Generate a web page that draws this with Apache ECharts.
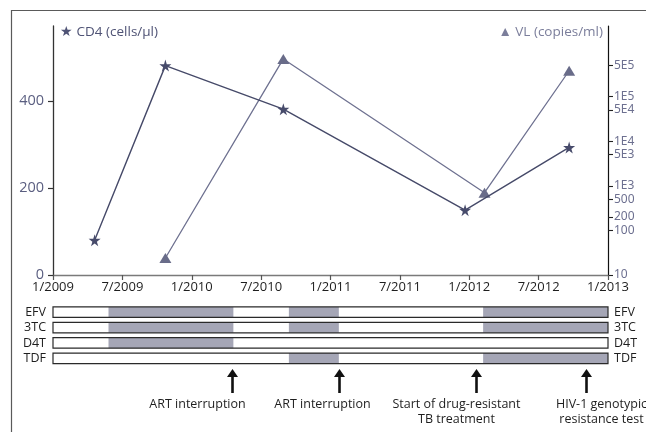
<!DOCTYPE html>
<html>
<head>
<meta charset="utf-8">
<script src="https://cdn.jsdelivr.net/npm/echarts@6/dist/echarts.min.js"></script>
<style>
  html, body { margin: 0; padding: 0; background: #fff; }
  #chart { width: 646px; height: 432px; }
</style>
</head>
<body>
<div id="chart"></div>
<script>
// dates are decimal years
const cd4Dates = [2009.30, 2009.81, 2010.66, 2011.97, 2012.72]
const cd4Values = [80, 481, 381, 149, 293]
const vlDates = [2009.81, 2010.66, 2012.11, 2012.72]
const vlValues = [24, 700000, 700, 380000]

const cd4Ticks = [0, 200, 400]
const vlTicks = [10, 100, 200, 500, 1000, 5000, 10000, 50000, 100000, 500000]

const drugNames = ['EFV', '3TC', 'D4T', 'TDF']
const efvOn = [[2009.40, 2010.30], [2010.70, 2011.06], [2012.10, 2013.0]]
const tc3On = [[2009.40, 2010.30], [2010.70, 2011.06], [2012.10, 2013.0]]
const d4tOn = [[2009.40, 2010.30]]
const tdfOn = [[2010.70, 2011.06], [2012.10, 2013.0]]
const drugPeriods = [efvOn, tc3On, d4tOn, tdfOn]

const eventYears = [2010.29, 2011.06, 2012.05, 2012.84]
const eventLabels = [
  'ART interruption',
  'ART interruption',
  'Start of drug-resistant\nTB treatment',
  'HIV-1 genotypic\nresistance test',
]

const FONT = '"Open Sans", "Noto Sans", sans-serif'
const NARROW = '"Liberation Sans Narrow", "Noto Sans", sans-serif'
const GRID_LEFT = 53
const GRID_RIGHT = 38
// label centres are not exactly on the arrows in the original
const labelShift = [-35, -17, -20, 15]

const yearLabel = (v) => {
  const r = Math.round(v)
  return Math.abs(v - r) < 0.01 ? '1/' + r : '7/' + Math.floor(v)
}

const vlLabel = (v) => {
  if (v < 1000) return String(Math.round(v))
  const e = Math.floor(Math.log10(v) + 1e-9)
  return Math.round(v / Math.pow(10, e)) + 'E' + e
}

const starPath = 'path://M50,0 L61,35 L98,35 L68,57 L79,91 L50,70 L21,91 L32,57 L2,35 L39,35 Z'

const chart = echarts.init(document.getElementById('chart'))

chart.setOption({
  animation: false,
  backgroundColor: '#fff',
  graphic: [
    {
      type: 'rect',
      silent: true,
      z: -10,
      shape: { x: 11.5, y: 10.5, width: 700, height: 500 },
      style: { fill: 'none', stroke: '#5a5a5a', lineWidth: 1.2 },
    },
  ],
  grid: [
    { left: GRID_LEFT, right: GRID_RIGHT, top: 26, height: 249 },
    { left: GRID_LEFT, right: GRID_RIGHT, top: 304.5, height: 61.5 },
    { left: GRID_LEFT, right: GRID_RIGHT, top: 369, height: 24 },
  ],
  xAxis: [
    {
      type: 'value',
      gridIndex: 0,
      min: 2009,
      max: 2013,
      interval: 0.5,
      splitLine: { show: false },
      axisLine: { show: true, onZero: false, lineStyle: { color: '#7a7a7a', width: 1.3 } },
      axisTick: { show: true, length: 5, lineStyle: { color: '#555', width: 1.2 } },
      axisLabel: { formatter: yearLabel, color: '#1e1e1e', fontSize: 13, fontFamily: FONT, margin: 6 },
    },
    { type: 'value', gridIndex: 1, min: 2009, max: 2013, show: false },
    { type: 'value', gridIndex: 2, min: 2009, max: 2013, show: false },
  ],
  yAxis: [
    {
      type: 'value',
      gridIndex: 0,
      position: 'left',
      min: 0,
      max: 572,
      name: '★ CD4 (cells/μl)',
      nameLocation: 'end',
      nameGap: -6,
      nameTextStyle: {
        align: 'left',
        verticalAlign: 'middle',
        padding: [0, 0, 0, 7],
        color: '#4f5375',
        fontSize: 13.5,
        fontFamily: FONT,
      },
      splitLine: { show: false },
      axisLine: { show: true, onZero: false, lineStyle: { color: '#333', width: 1.3 } },
      axisTick: { show: true, length: 5, customValues: cd4Ticks, lineStyle: { color: '#333', width: 1.2 } },
      axisLabel: { customValues: cd4Ticks, color: '#5a5e80', fontSize: 14.5, fontFamily: FONT, margin: 9 },
    },
    {
      type: 'log',
      logBase: 10,
      gridIndex: 0,
      position: 'right',
      min: 10,
      max: 3830000,
      name: '▲ VL (copies/ml)',
      nameLocation: 'end',
      nameGap: -6,
      nameTextStyle: {
        align: 'right',
        verticalAlign: 'middle',
        padding: [0, 5, 0, 0],
        color: '#7b7e9b',
        fontSize: 13.5,
        fontFamily: FONT,
      },
      splitLine: { show: false },
      axisLine: { show: true, onZero: false, lineStyle: { color: '#111', width: 1.2 } },
      axisTick: { show: true, length: 5, customValues: vlTicks, lineStyle: { color: '#222', width: 1.1 } },
      axisLabel: {
        customValues: vlTicks,
        formatter: vlLabel,
        color: '#6d7090',
        fontSize: 12,
        fontFamily: NARROW,
        margin: 6,
      },
    },
    {
      type: 'category',
      gridIndex: 1,
      position: 'left',
      inverse: true,
      data: drugNames,
      axisLine: { show: false },
      axisTick: { show: false },
      axisLabel: { interval: 0, color: '#1e1e1e', fontSize: 12.5, fontFamily: FONT, margin: 7 },
    },
    {
      type: 'category',
      gridIndex: 1,
      position: 'right',
      inverse: true,
      data: drugNames,
      axisLine: { show: false },
      axisTick: { show: false },
      axisLabel: { interval: 0, color: '#1e1e1e', fontSize: 12.5, fontFamily: FONT, margin: 6, align: 'left' },
    },
    { type: 'value', gridIndex: 2, min: 0, max: 1, show: false },
  ],
  series: [
    {
      name: 'CD4',
      type: 'line',
      xAxisIndex: 0,
      yAxisIndex: 0,
      data: cd4Dates.map((d, i) => [d, cd4Values[i]]),
      symbol: starPath,
      symbolSize: 12,
      itemStyle: { color: '#474b6b' },
      lineStyle: { color: '#464a69', width: 1.4 },
      z: 3,
    },
    {
      name: 'VL',
      type: 'line',
      xAxisIndex: 0,
      yAxisIndex: 1,
      data: vlDates.map((d, i) => [d, vlValues[i]]),
      symbol: 'triangle',
      symbolSize: [12, 10],
      itemStyle: { color: '#696c89' },
      lineStyle: { color: '#6e7190', width: 1.3 },
      z: 2,
    },
    {
      name: 'drugs',
      type: 'custom',
      xAxisIndex: 1,
      yAxisIndex: 2,
      clip: false,
      data: drugNames.map((n, i) => [2009, i]),
      encode: { x: 0, y: 1 },
      renderItem: (params, api) => {
        const row = api.value(1)
        const h = api.size([0, 1])[1] * 0.68
        const a = api.coord([2009, row])
        const b = api.coord([2013, row])
        const top = a[1] - h / 2
        const children = [
          { type: 'rect', shape: { x: a[0], y: top, width: b[0] - a[0], height: h }, style: { fill: '#fff' } },
        ]
        drugPeriods[row].forEach(([s, e]) => {
          const p = api.coord([s, row])
          const q = api.coord([e, row])
          children.push({
            type: 'rect',
            shape: { x: p[0], y: top, width: q[0] - p[0], height: h },
            style: { fill: '#a5a6b6' },
          })
        })
        children.push({
          type: 'rect',
          shape: { x: a[0], y: top, width: b[0] - a[0], height: h },
          style: { fill: 'none', stroke: '#2a2a2a', lineWidth: 1.2 },
        })
        return { type: 'group', children }
      },
    },
    {
      name: 'events',
      type: 'custom',
      xAxisIndex: 2,
      yAxisIndex: 4,
      clip: false,
      data: eventYears.map((y) => [y, 0]),
      encode: { x: 0, y: 1 },
      renderItem: (params, api) => {
        const i = params.dataIndex
        const base = api.coord([api.value(0), 0])
        const tip = api.coord([api.value(0), 1])
        const x = Math.round(base[0]) + 0.5
        return {
          type: 'group',
          children: [
            {
              type: 'line',
              shape: { x1: x, y1: base[1], x2: x, y2: tip[1] + 6 },
              style: { stroke: '#111', lineWidth: 2.6 },
            },
            {
              type: 'polygon',
              shape: { points: [[x - 5.5, tip[1] + 8], [x + 5.5, tip[1] + 8], [x, tip[1]]] },
              style: { fill: '#111' },
            },
            {
              type: 'text',
              x: x + labelShift[i],
              y: base[1] + 4,
              style: {
                text: eventLabels[i],
                align: 'center',
                verticalAlign: 'top',
                font: '12.5px ' + FONT,
                lineHeight: 15,
                fill: '#1e1e1e',
              },
            },
          ],
        }
      },
    },
  ],
})
</script>
</body>
</html>
